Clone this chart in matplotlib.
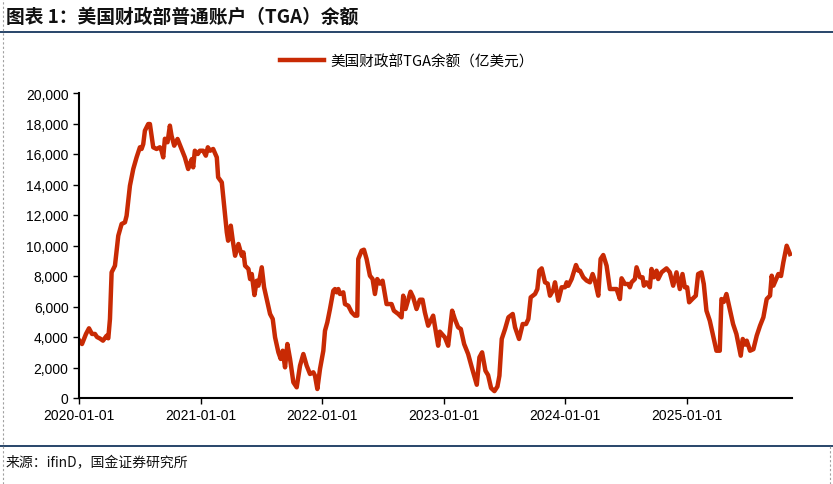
import matplotlib
matplotlib.use("Agg")
import matplotlib.pyplot as plt
import pandas as pd
from matplotlib.lines import Line2D

plt.rcParams['font.family'] = ['Liberation Sans', 'Noto Sans CJK SC', 'DejaVu Sans']

dates = [
    "2020-01-01", "2020-01-10", "2020-01-22", "2020-01-31", "2020-02-09", "2020-02-18", "2020-02-24",
    "2020-03-04", "2020-03-13", "2020-03-24", "2020-03-29", "2020-04-03", "2020-04-08", "2020-04-18",
    "2020-04-28", "2020-05-08", "2020-05-18", "2020-05-23", "2020-06-02", "2020-06-12", "2020-06-22",
    "2020-07-02", "2020-07-07", "2020-07-12", "2020-07-17", "2020-07-27", "2020-08-01", "2020-08-11",
    "2020-08-21", "2020-08-31", "2020-09-05", "2020-09-10", "2020-09-15", "2020-09-23", "2020-09-30",
    "2020-10-05", "2020-10-13", "2020-10-23", "2020-11-04", "2020-11-14", "2020-11-24", "2020-11-29",
    "2020-12-05", "2020-12-09", "2020-12-14", "2020-12-23", "2020-12-29", "2021-01-08", "2021-01-16",
    "2021-01-22", "2021-01-29", "2021-02-07", "2021-02-18", "2021-02-22", "2021-03-05", "2021-03-09",
    "2021-03-20", "2021-03-24", "2021-04-01", "2021-04-07", "2021-04-14", "2021-04-24", "2021-05-04",
    "2021-05-09", "2021-05-14", "2021-05-24", "2021-05-29", "2021-06-03", "2021-06-11", "2021-06-18",
    "2021-06-23", "2021-07-03", "2021-07-10", "2021-07-18", "2021-07-28", "2021-08-05", "2021-08-12",
    "2021-08-22", "2021-08-29", "2021-09-04", "2021-09-11", "2021-09-18", "2021-09-26", "2021-10-06",
    "2021-10-16", "2021-10-26", "2021-11-05", "2021-11-15", "2021-11-25", "2021-12-05", "2021-12-10",
    "2021-12-17", "2021-12-25", "2022-01-04", "2022-01-09", "2022-01-16", "2022-01-24", "2022-02-03",
    "2022-02-08", "2022-02-13", "2022-02-18", "2022-02-23", "2022-03-05", "2022-03-10", "2022-03-20",
    "2022-03-30", "2022-04-09", "2022-04-16", "2022-04-19", "2022-04-29", "2022-05-06", "2022-05-14",
    "2022-05-24", "2022-06-01", "2022-06-08", "2022-06-15", "2022-06-23", "2022-07-01", "2022-07-13",
    "2022-07-28", "2022-08-04", "2022-08-17", "2022-08-27", "2022-09-01", "2022-09-08", "2022-09-23",
    "2022-10-01", "2022-10-11", "2022-10-21", "2022-10-29", "2022-11-05", "2022-11-15", "2022-11-30",
    "2022-12-15", "2022-12-20", "2023-01-04", "2023-01-14", "2023-01-26", "2023-02-03", "2023-02-13",
    "2023-02-21", "2023-03-03", "2023-03-15", "2023-03-26", "2023-04-10", "2023-04-18", "2023-04-26",
    "2023-05-06", "2023-05-14", "2023-05-23", "2023-06-02", "2023-06-11", "2023-06-17", "2023-06-24",
    "2023-07-04", "2023-07-14", "2023-07-27", "2023-08-03", "2023-08-15", "2023-08-26", "2023-09-05",
    "2023-09-12", "2023-09-19", "2023-10-02", "2023-10-09", "2023-10-15", "2023-10-22", "2023-11-01",
    "2023-11-09", "2023-11-16", "2023-11-26", "2023-12-01", "2023-12-11", "2023-12-21", "2023-12-31",
    "2024-01-05", "2024-01-10", "2024-01-20", "2024-02-02", "2024-02-09", "2024-02-14", "2024-02-24",
    "2024-03-05", "2024-03-15", "2024-03-23", "2024-03-30", "2024-04-09", "2024-04-16", "2024-04-24",
    "2024-05-04", "2024-05-14", "2024-05-26", "2024-06-03", "2024-06-13", "2024-06-18", "2024-06-28",
    "2024-07-08", "2024-07-13", "2024-07-18", "2024-07-28", "2024-08-02", "2024-08-12", "2024-08-20",
    "2024-08-24", "2024-09-01", "2024-09-11", "2024-09-16", "2024-09-23", "2024-10-01", "2024-10-06",
    "2024-10-16", "2024-10-31", "2024-11-10", "2024-11-20", "2024-11-30", "2024-12-10", "2024-12-18",
    "2024-12-25", "2025-01-01", "2025-01-07", "2025-01-17", "2025-01-27", "2025-02-03", "2025-02-13",
    "2025-02-20", "2025-02-28", "2025-03-10", "2025-03-20", "2025-03-30", "2025-04-09", "2025-04-14",
    "2025-04-21", "2025-04-29", "2025-05-09", "2025-05-19", "2025-05-29", "2025-06-11", "2025-06-17",
    "2025-06-24", "2025-06-29", "2025-07-09", "2025-07-19", "2025-07-29", "2025-08-08", "2025-08-18",
    "2025-08-28", "2025-09-07", "2025-09-12", "2025-09-17", "2025-10-02", "2025-10-10", "2025-10-17",
    "2025-10-27", "2025-11-06",
]

tga_balance = [
    3800, 3540, 4200, 4570, 4200, 4200, 4000,
    3900, 3760, 4085, 3915, 5180, 8240, 8675,
    10640, 11410, 11520, 11950, 13920, 15015, 15780,
    16440, 16330, 16650, 17530, 17965, 17965, 16440,
    16330, 16440, 16215, 15780, 17000, 16770, 17860,
    17200, 16545, 16985, 16330, 15780, 15015, 15345,
    15670, 15125, 16215, 16000, 16215, 16215, 15890,
    16440, 16215, 16330, 15780, 14470, 14140, 13265,
    10865, 10315, 11300, 10315, 9330, 10100, 9330,
    9550, 8675, 8460, 7800, 8130, 6750, 7690,
    7365, 8570, 7260, 6490, 5510, 5180, 3980,
    2995, 2560, 3100, 2010, 3540, 2560, 1030,
    700, 2120, 2885, 2120, 1575, 1685, 1460,
    590, 1900, 3100, 4410, 4960, 5835, 7035,
    7145, 6930, 7145, 6820, 6930, 6160, 6050,
    5620, 5400, 5400, 9115, 9660, 9725, 9115,
    8020, 7800, 6820, 7800, 7500, 7690, 6160,
    6160, 5725, 5510, 5290, 6710, 5835, 6970,
    6600, 5835, 6445, 6445, 5620, 4740, 5400,
    3430, 4350, 3980, 3430, 5725, 5180, 4635,
    4525, 3540, 2885, 2010, 870, 2670, 2995,
    1790, 1500, 650, 450, 750, 1460, 3870,
    4525, 5290, 5510, 4635, 3870, 4850, 4850,
    5180, 6600, 6820, 7145, 8350, 8500, 7585,
    7500, 6710, 7100, 7585, 6380, 7260, 7260,
    7585, 7360, 7800, 8720, 8350, 8350, 7915,
    7700, 7585, 8130, 7690, 6710, 9115, 9375,
    8675, 7145, 7145, 7145, 6490, 7850, 7475,
    7475, 7260, 7585, 7800, 8570, 7915, 7915,
    7365, 7585, 7260, 8460, 7915, 8350, 7800,
    8240, 8500, 8240, 7365, 8240, 7145, 8130,
    7260, 7260, 6275, 6500, 6710, 8130, 8240,
    7475, 5725, 5070, 4085, 3100, 3100, 6490,
    6300, 6820, 5835, 4850, 4195, 2775, 3870,
    3500, 3760, 3100, 3200, 4085, 4740, 5290,
    6490, 6710, 8020, 7365, 8130, 8000, 8900,
    9985, 9440,
]

x_ticks = ["2020-01-01", "2021-01-01", "2022-01-01", "2023-01-01", "2024-01-01", "2025-01-01"]
y_ticks = [0, 2000, 4000, 6000, 8000, 10000, 12000, 14000, 16000, 18000, 20000]

title_text = "图表 1：美国财政部普通账户（TGA）余额"
legend_label = "美国财政部TGA余额（亿美元）"
source_text = "来源：ifinD，国金证券研究所"

line_color = "#C82A04"
navy = "#17375E"

W, H = 833, 485
fig = plt.figure(figsize=(W / 100, H / 100), dpi=100)

# Frame lines
fig.add_artist(Line2D([0, 1], [1 - 33 / H, 1 - 33 / H], color=navy, lw=1.3, transform=fig.transFigure))
fig.add_artist(Line2D([0, 1], [1 - 447 / H, 1 - 447 / H], color=navy, lw=1.3, transform=fig.transFigure))
fig.add_artist(Line2D([3 / W, 3 / W], [0, 1], color="#A0A0A0", lw=0.8, ls=(0, (2, 2)), transform=fig.transFigure))
fig.add_artist(Line2D([830 / W, 830 / W], [0, 1 - 447 / H], color="#A0A0A0", lw=0.8, ls=(0, (2, 2)), transform=fig.transFigure))

fig.text(6 / W, 1 - 17 / H, title_text, fontsize=13.5, fontweight="bold", style="italic",
         family=["Noto Sans CJK SC", "DejaVu Sans"], va="center", ha="left", color="#111111")
fig.text(6 / W, 1 - 463 / H, source_text, fontsize=10, family=["Noto Sans CJK SC", "DejaVu Sans"],
         va="center", ha="left", color="#111111")

ax = fig.add_axes([79 / W, 1 - 399 / H, (792 - 79) / W, (399 - 94) / H])
d = pd.to_datetime(dates)
ax.plot(d, tga_balance, color=line_color, lw=3.2, solid_joinstyle="round", label=legend_label)

ax.set_ylim(0, 20000)
ax.set_yticks(y_ticks)
ax.set_yticklabels([f"{v:,}" for v in y_ticks])
ax.set_xlim(pd.Timestamp("2020-01-01"), pd.Timestamp("2025-11-12"))
ax.set_xticks(pd.to_datetime(x_ticks))
ax.set_xticklabels(x_ticks)

for s in ["top", "right"]:
    ax.spines[s].set_visible(False)
for s in ["left", "bottom"]:
    ax.spines[s].set_color("black")
    ax.spines[s].set_linewidth(1.5)
ax.tick_params(axis="both", labelsize=10, colors="black", length=4, width=1, direction="out")
ax.tick_params(axis="x", pad=3)

leg = fig.legend(loc="center", bbox_to_anchor=(407 / W, 1 - 62 / H), frameon=False,
                 prop={"family": ["Noto Sans CJK SC", "DejaVu Sans"], "size": 10.5},
                 handlelength=3.0, handletextpad=0.5)

fig.savefig("out.png", dpi=100)
